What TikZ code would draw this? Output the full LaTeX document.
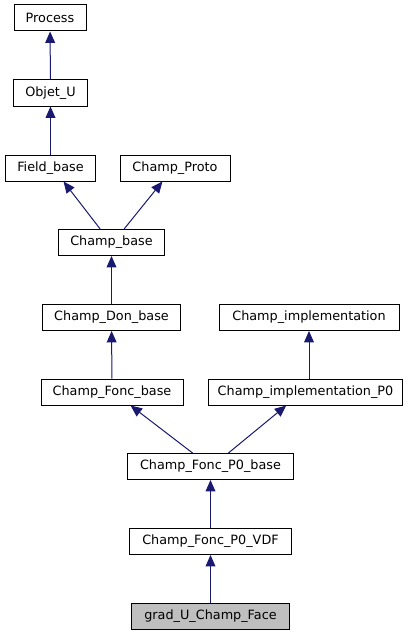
\documentclass[tikz,border=0pt]{standalone}
\usepackage{fontspec}
\setmainfont{DejaVu Sans}
\usetikzlibrary{arrows.meta}
\definecolor{edgeblue}{HTML}{191970}
\definecolor{leafgray}{HTML}{BFBFBF}

\begin{document}
\begin{tikzpicture}[x=0.75pt,y=-0.75pt,font=\fontsize{9.6}{11}\selectfont,
  cls/.style={draw=black, line width=0.75pt, minimum height=19.5pt, inner sep=0pt, fill=white},
  inh/.style={draw=edgeblue, line width=0.75pt, -{Triangle[length=8.6pt,width=7.4pt]}}]

  \useasboundingbox (0,0) rectangle (416,635);

  \node [cls, minimum width=54pt]   (process)  at (50,18)      {Process};
  \node [cls, minimum width=56pt]   (objetu)   at (50.5,93)    {Objet\_U};
  \node [cls, minimum width=68pt]   (fieldb)   at (50.5,168)   {Field\_base};
  \node [cls, minimum width=82.5pt] (proto)    at (175,168)    {Champ\_Proto};
  \node [cls, minimum width=80pt]   (champb)   at (111.5,242.5) {Champ\_base};
  \node [cls, minimum width=104pt]  (donb)     at (111.5,317.5) {Champ\_Don\_base};
  \node [cls, minimum width=135pt]  (impl)     at (309,317.5)  {Champ\_implementation};
  \node [cls, minimum width=106.5pt] (foncb)   at (112,392)    {Champ\_Fonc\_base};
  \node [cls, minimum width=146pt]  (implp)    at (305.5,392)  {Champ\_implementation\_P0};
  \node [cls, minimum width=125pt]  (foncpb)   at (210.5,466.5) {Champ\_Fonc\_P0\_base};
  \node [cls, minimum width=122pt]  (vdf)      at (210.5,541.5) {Champ\_Fonc\_P0\_VDF};
  \node [cls, minimum width=119pt, fill=leafgray] (grad) at (210.5,616) {grad\_U\_Champ\_Face};

  \draw [inh] (objetu) -- (process);
  \draw [inh] (fieldb) -- (objetu);
  \draw [inh] (champb.130) -- (fieldb.-46);
  \draw [inh] (champb.47) -- (proto.-133);
  \draw [inh] (donb) -- (champb);
  \draw [inh] (foncb) -- (donb);
  \draw [inh] (implp.north -| impl.south) -- (impl.south);
  \draw [inh] (foncpb.143) -- (foncb.-36);
  \draw [inh] (foncpb.37) -- (implp.-145);
  \draw [inh] (vdf) -- (foncpb);
  \draw [inh] (grad) -- (vdf);

\end{tikzpicture}
\end{document}
